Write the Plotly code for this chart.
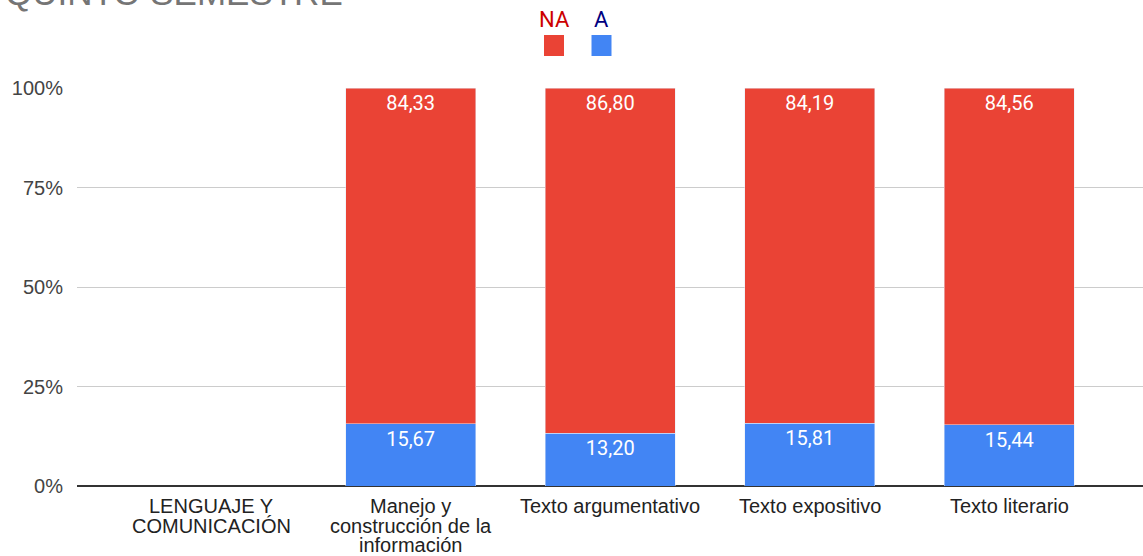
import plotly.graph_objects as go

categories = ["LENGUAJE Y<br>COMUNICACIÓN", "Manejo y<br>construcción de la<br>información",
              "Texto argumentativo", "Texto expositivo", "Texto literario"]
na_values = [None, 84.33, 86.80, 84.19, 84.56]
a_values = [None, 15.67, 13.20, 15.81, 15.44]
colors = {"NA": "#EA4335", "A": "#4285F4"}
legend_text_colors = {"NA": "#CC0000", "A": "#000080"}
y_ticks = [0, 25, 50, 75, 100]
y_tick_labels = ["0%", "25%", "50%", "75%", "100%"]

fig = go.Figure()
for name, vals in [("A", a_values), ("NA", na_values)]:
    fig.add_trace(go.Bar(
        x=categories, y=vals, name=name, marker_color=colors[name],
        width=0.65, texttemplate="%{y:.2f}", textposition="inside",
        insidetextanchor="end",
        textfont=dict(family="Roboto", size=20, color="white"),
        showlegend=False, cliponaxis=False,
    ))

L, T, B = 77, 88, 70
W, H = 1143, 556
pw, ph = W - L, H - T - B

def px(x):
    return (x - L) / pw

def py(y):
    return (H - B - y) / ph

# category labels, one line at a time (tight line spacing)
for cat in categories:
    for i, line in enumerate(cat.split("<br>")):
        fig.add_annotation(x=cat, y=0, xref="x", yref="paper", text=line,
                           showarrow=False, xanchor="center", yanchor="middle",
                           yshift=-(20 + 19.5 * i), borderpad=0,
                           font=dict(family="Liberation Sans", size=20, color="#222222"))

# custom legend: label above square
for name, cx in [("NA", 554), ("A", 601.5)]:
    fig.add_annotation(x=px(cx), y=py(20), xref="paper", yref="paper",
                       text=name, showarrow=False, xanchor="center", yanchor="middle",
                       font=dict(family="Roboto", size=22, color=legend_text_colors[name]))
    fig.add_shape(type="rect", xref="paper", yref="paper",
                  x0=px(cx - 10), x1=px(cx + 10), y0=py(56), y1=py(35),
                  fillcolor=colors[name], line=dict(width=0))

# cropped title
fig.add_annotation(x=px(3), y=py(14), xref="paper", yref="paper", text="QUINTO SEMESTRE",
                   showarrow=False, xanchor="left", yanchor="bottom",
                   font=dict(family="Liberation Sans", size=35, color="#757575"))

fig.update_layout(
    barmode="stack", separators=",.",
    width=W, height=H, margin=dict(l=L, r=0, t=T, b=B, pad=0, autoexpand=False),
    plot_bgcolor="white", paper_bgcolor="white",
    xaxis=dict(range=[-0.672, 4.67], showgrid=False, ticks="", showline=False,
               automargin=False, showticklabels=False),
    yaxis=dict(range=[0, 100], tickvals=y_ticks, ticktext=y_tick_labels, showgrid=True,
               gridcolor="#CCCCCC", gridwidth=1, zeroline=True, zerolinecolor="#333333",
               zerolinewidth=2, automargin=False, ticks="outside", ticklen=9,
               tickcolor="rgba(0,0,0,0)",
               tickfont=dict(family="Liberation Sans", size=20, color="#444444")),
)

fig.write_html("out.html", config={"displayModeBar": False},
               post_script="document.body.style.margin='0';")
